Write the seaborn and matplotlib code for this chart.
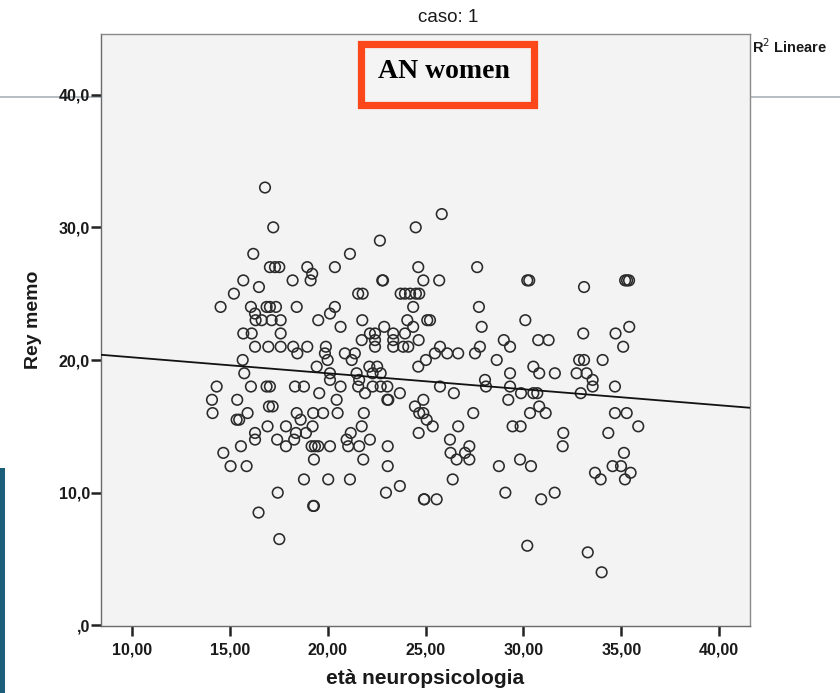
import matplotlib
matplotlib.use("Agg")
import matplotlib.pyplot as plt
from matplotlib.lines import Line2D
from matplotlib.patches import Rectangle
from matplotlib.ticker import FuncFormatter
import seaborn as sns
import pandas as pd

# ---- data ----
eta_top = [16.80, 17.22, 16.20, 17.05, 17.31, 17.53, 18.96, 19.21, 19.13, 20.37,
           21.14, 22.67, 24.50, 24.63, 24.89, 22.79, 22.83, 15.69, 15.21, 16.49,
           18.21, 14.53, 16.08, 16.88, 17.05, 17.36, 18.42, 21.56, 21.79, 23.73,
           23.95, 24.21, 24.51, 24.68, 16.29, 16.32, 16.63, 17.14, 17.60, 20.37,
           20.12, 19.52, 20.66, 21.77, 24.37, 24.07, 24.37, 25.09, 22.89, 15.69,
           16.12, 17.60, 22.16, 22.42, 23.35, 23.95, 22.42, 23.35, 21.74, 24.65,
           16.29, 16.97, 17.60, 18.24, 18.96, 19.91, 22.42, 23.35, 23.86, 24.12,
           18.45, 19.86, 20.88, 21.39, 21.23, 20.00, 15.66, 25.02, 19.44, 22.13,
           22.53, 24.63, 15.74, 20.12, 21.48, 22.30, 22.71]
rey_top = [33.0, 30.0, 28.0, 27.0, 27.0, 27.0, 27.0, 26.5, 26.0, 27.0,
           28.0, 29.0, 30.0, 27.0, 26.0, 26.0, 26.0, 26.0, 25.0, 25.5,
           26.0, 24.0, 24.0, 24.0, 24.0, 24.0, 24.0, 25.0, 25.0, 25.0,
           25.0, 25.0, 25.0, 25.0, 23.5, 23.0, 23.0, 23.0, 23.0, 24.0,
           23.5, 23.0, 22.5, 23.0, 24.0, 23.0, 22.5, 23.0, 22.5, 22.0,
           22.0, 22.0, 22.0, 22.0, 22.0, 22.0, 21.5, 21.5, 21.5, 21.5,
           21.0, 21.0, 21.0, 21.0, 21.0, 21.0, 21.0, 21.0, 21.0, 21.0,
           20.5, 20.5, 20.5, 20.5, 20.0, 20.0, 20.0, 20.0, 19.5, 19.5,
           19.5, 19.5, 19.0, 19.0, 19.0, 19.0, 19.0]

eta_left = [14.33, 16.08, 16.88, 17.05, 14.09, 15.38, 17.00, 17.19, 14.12, 15.91,
            15.35, 15.48, 16.93, 16.29, 16.29, 17.42, 15.57, 14.67, 15.04, 15.86,
            17.45, 16.47, 17.53]
rey_left = [18.0, 18.0, 18.0, 18.0, 17.0, 17.0, 16.5, 16.5, 16.0, 16.0,
            15.5, 15.5, 15.0, 14.5, 14.0, 14.0, 13.5, 13.0, 12.0, 12.0,
            10.0, 8.5, 6.5]

eta_mid = [18.33, 18.79, 19.57, 20.66, 20.12, 21.61, 21.56, 22.30, 22.71, 23.05,
           21.91, 23.05, 23.10, 23.69, 20.46, 18.42, 18.62, 19.26, 19.77, 20.51,
           21.85, 21.74, 21.18, 20.97, 22.16, 17.87, 18.38, 18.89, 19.23, 18.29,
           17.87, 19.18, 19.35, 19.52, 20.12, 21.05, 21.61, 23.07, 19.30, 21.82,
           23.07, 18.79, 20.03, 21.14, 22.98, 23.69, 19.26, 19.30, 24.89, 24.46,
           24.68, 24.89, 25.06, 24.65, 24.94, 25.37]
rey_mid = [18.0, 18.0, 17.5, 18.0, 18.5, 18.5, 18.0, 18.0, 18.0, 18.0,
           17.5, 17.0, 17.0, 17.5, 17.0, 16.0, 15.5, 16.0, 16.0, 16.0,
           16.0, 15.0, 14.5, 14.0, 14.0, 15.0, 14.5, 14.5, 15.0, 14.0,
           13.5, 13.5, 13.5, 13.5, 13.5, 13.5, 13.5, 13.5, 12.5, 12.5,
           12.0, 11.0, 11.0, 11.0, 10.0, 10.5, 9.0, 9.0, 17.0, 16.5,
           16.0, 16.0, 15.5, 14.5, 9.5, 15.0]

eta_right = [28.04, 28.09, 29.32, 29.32, 29.23, 29.88, 30.51, 30.71, 30.81, 30.81,
             30.34, 31.14, 31.61, 32.72, 33.23, 33.54, 33.54, 32.93, 34.68, 34.68,
             35.28, 35.87, 34.34, 35.14, 34.56, 34.99, 35.48, 33.66, 33.95, 35.19,
             32.04, 32.01, 29.45, 29.86, 29.83, 30.39, 28.75, 29.08, 30.91, 31.60,
             30.20, 33.29, 34.00, 27.44, 26.67, 26.25, 26.28, 26.59, 27.02, 27.24,
             27.24, 26.39, 24.92, 25.57, 25.74, 26.45, 25.83, 27.64, 30.20, 30.30,
             35.20, 35.30, 35.40, 33.10, 25.70, 27.73, 27.87, 25.23, 30.10, 29.00,
             29.32, 30.76, 31.29, 33.06, 34.71, 35.41, 35.10, 27.78, 27.53, 25.74,
             25.48, 26.11, 26.67, 28.64, 30.51, 32.85, 33.10, 34.05]
rey_right = [18.5, 18.0, 19.0, 18.0, 17.0, 17.5, 17.5, 17.5, 19.0, 16.5,
             16.0, 16.0, 19.0, 19.0, 19.0, 18.5, 18.0, 17.5, 18.0, 16.0,
             16.0, 15.0, 14.5, 13.0, 12.0, 12.0, 11.5, 11.5, 11.0, 11.0,
             14.5, 13.5, 15.0, 15.0, 12.5, 12.0, 12.0, 10.0, 9.5, 10.0,
             6.0, 5.5, 4.0, 16.0, 15.0, 14.0, 13.0, 12.5, 13.0, 13.5,
             12.5, 11.0, 9.5, 9.5, 18.0, 17.5, 31.0, 27.0, 26.0, 26.0,
             26.0, 26.0, 26.0, 25.5, 26.0, 24.0, 22.5, 23.0, 23.0, 21.5,
             21.0, 21.5, 21.5, 22.0, 22.0, 22.5, 21.0, 21.0, 20.5, 21.0,
             20.5, 20.5, 20.5, 20.0, 19.5, 20.0, 20.0, 20.0]

x_ticks = [10, 15, 20, 25, 30, 35, 40]
y_ticks = [0, 10, 20, 30, 40]

df = pd.DataFrame({
    "eta": eta_top + eta_left + eta_mid + eta_right,
    "rey": rey_top + rey_left + rey_mid + rey_right,
})

# ---- figure ----
W, H = 840, 693
fig = plt.figure(figsize=(W / 100, H / 100), dpi=100)
fig.patch.set_facecolor("white")

# gray guide line behind the chart (at the 40,0 level)
fig.add_artist(Line2D([0, 1], [1 - 97 / H, 1 - 97 / H], transform=fig.transFigure,
                      color="#a3acb3", lw=1.1, zorder=-5))
# dark teal bar at left edge
fig.add_artist(Rectangle((0, 0), 5 / W, (H - 468) / H, transform=fig.transFigure,
                         facecolor="#1c5d79", edgecolor="none", zorder=-4))

ax = fig.add_axes([101 / W, 1 - 626 / H, (750 - 101) / W, (626 - 34.3) / H])
ax.set_facecolor("#f3f3f3")
ax.set_xlim(8.42, 41.58)
ax.set_ylim(-0.05, 44.55)

sns.scatterplot(data=df, x="eta", y="rey", ax=ax, marker="o", s=58,
                facecolor="none", edgecolor="#2a2a2a", linewidth=1.15, zorder=3)
sns.regplot(data=df, x="eta", y="rey", ax=ax, scatter=False, ci=None,
            truncate=False, line_kws=dict(color="#111111", lw=1.3, zorder=4))
ax.set_xlim(8.42, 41.58)
ax.set_ylim(-0.05, 44.55)

ax.set_xticks(x_ticks)
ax.set_yticks(y_ticks)
ax.xaxis.set_major_formatter(FuncFormatter(lambda v, p: f"{v:.2f}".replace(".", ",")))
ax.yaxis.set_major_formatter(FuncFormatter(
    lambda v, p: ",0" if v == 0 else f"{v:.1f}".replace(".", ",")))
ax.tick_params(axis="both", which="major", direction="out", length=7, width=1.8,
               color="#222222", labelsize=11.5, labelcolor="#1a1a1a")
ax.tick_params(axis="y", pad=1)
ax.tick_params(axis="x", pad=5)
for lab in ax.get_xticklabels() + ax.get_yticklabels():
    lab.set_fontweight("bold")
    lab.set_fontfamily("Liberation Sans")

for side in ["top", "right"]:
    ax.spines[side].set_color("#8a8a8a")
    ax.spines[side].set_linewidth(1.0)
for side in ["left", "bottom"]:
    ax.spines[side].set_color("#6a6a6a")
    ax.spines[side].set_linewidth(1.0)

ax.set_xlabel("età neuropsicologia", fontsize=15, fontweight="bold",
              family="Liberation Sans", color="#1a1a1a")
ax.set_ylabel("Rey memo", fontsize=14, fontweight="bold",
              family="Liberation Sans", color="#1a1a1a")
ax.xaxis.set_label_coords(0.5, -(679 - 626) / (626 - 34.3))
ax.xaxis.label.set_va("center")
ax.yaxis.set_label_coords(-(101 - 33) / (750 - 101), (626 - 320) / (626 - 34.3))
ax.yaxis.label.set_va("center")

fig.text(448 / W, 1 - 18 / H, "caso: 1", ha="center", va="center",
         fontsize=13.5, family="Liberation Sans", color="#1a1a1a")
fig.text(752 / W, 1 - 47 / H, r"R$^2$ Lineare", ha="left", va="center",
         fontsize=10.5, fontweight="bold", family="Liberation Sans", color="#1a1a1a")

# red annotation box with label
fig.add_artist(Rectangle((360.5 / W, 1 - 104.5 / H), 173 / W, 61 / H,
                         transform=fig.transFigure, facecolor="#f4f4f4",
                         edgecolor="#fb4719", lw=5.2, zorder=10))
fig.text(444 / W, 1 - 72 / H, "AN women", ha="center", va="center",
         fontsize=20, fontweight="bold", family="Liberation Serif",
         color="black", zorder=11)

fig.savefig("out.png", dpi=100)
